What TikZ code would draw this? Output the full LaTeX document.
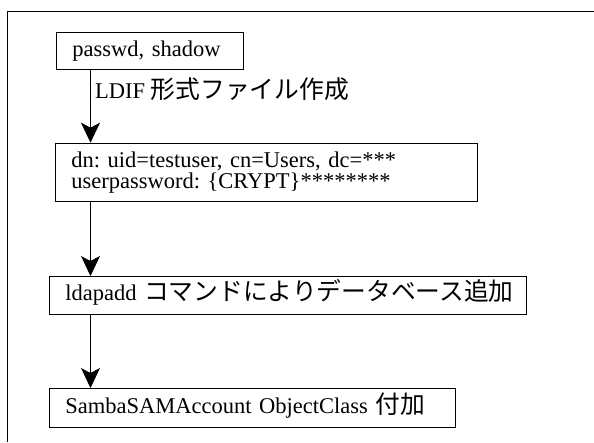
\documentclass[tikz,border=0pt]{standalone}
\usepackage{fontspec}
\setmainfont{Liberation Serif}
\newfontfamily\jp{Noto Sans CJK JP}[Scale=1.1]
\usetikzlibrary{arrows.meta}
\tikzset{
	entry/.style={draw, line width=0.8pt, anchor=north west, align=left, inner xsep=16pt, inner ysep=0pt, text height=16pt, text depth=5pt, font=\fontsize{22.5}{21}\selectfont\frenchspacing},
	flow/.style={line width=0.8pt, -{Stealth[length=20pt,width=19pt,inset=5pt]}}
}
\begin{document}
\begin{tikzpicture}[x=1pt, y=-1pt]
	\useasboundingbox (0,0) rectangle (594,442);
	\coordinate (ax) at (90.5,0);

	\node[entry, text width=155pt, minimum height=37.6pt] (src) at (56,31.7) {passwd, shadow};
	\node[entry, text width=390pt, minimum height=58.3pt, text height=15.5pt, text depth=25.5pt] (ldif) at (55,142.7) {dn: uid=testuser, cn=Users, dc=***\\userpassword: \{CRYPT\}********};
	\node[entry, text width=445pt, minimum height=38pt] (add) at (49,276) {ldapadd~{\jp コマンドによりデータベース追加}};
	\node[entry, text width=374pt, minimum height=38.7pt] (samba) at (49,388) {SambaSAMAccount ObjectClass~{\jp 付加}};
	\node[anchor=west, inner sep=0pt, font=\fontsize{22.5}{20}\selectfont] (mk) at (95,89) {LDIF {\jp 形式ファイル作成}};

	\draw[line width=0.8pt] (7.3,442) -- (7.3,11.5) -- (594,11.5);
	\draw[flow] (src.south -| ax) -- (ldif.north -| ax);
	\draw[flow] (ldif.south -| ax) -- (add.north -| ax);
	\draw[flow] (add.south -| ax) -- (samba.north -| ax);
\end{tikzpicture}
\end{document}
